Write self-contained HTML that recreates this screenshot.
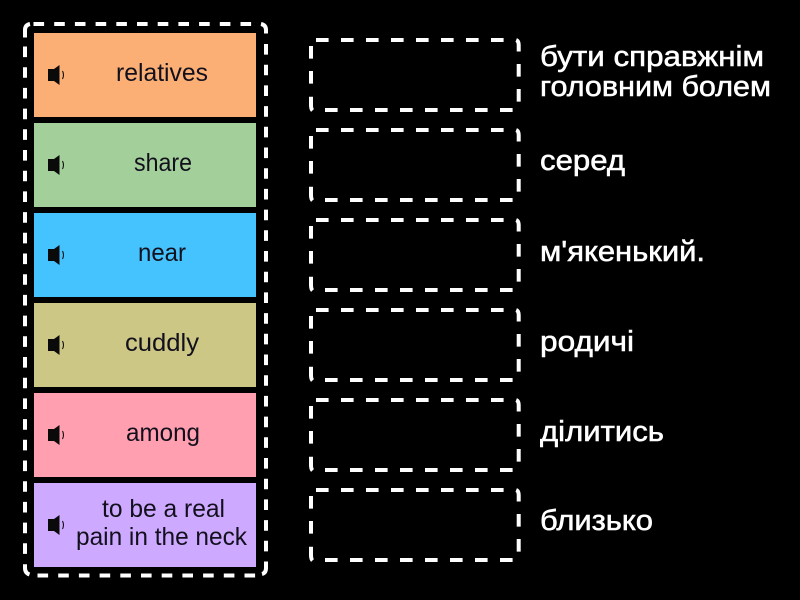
<!DOCTYPE html>
<html><head><meta charset="utf-8"><style>
html,body{margin:0;padding:0;background:#000;width:800px;height:600px;overflow:hidden}
svg{display:block}
.l{font-family:"Liberation Sans","DejaVu Sans",sans-serif;font-size:25px;fill:#12101c;text-anchor:start}
.r{font-family:"Liberation Sans","DejaVu Sans",sans-serif;font-size:29px;fill:#fff;stroke:#fff;stroke-width:.55px}
.d{fill:none;stroke:#fff;stroke-width:4}
</style></head><body>
<svg width="800" height="600" viewBox="0 0 800 600" xmlns="http://www.w3.org/2000/svg">
<defs>
<g id="spk"><path d="M0-6H6L11.5-10V10L6 6H0Z" fill="#0a0a0a"/><path d="M14.5-4 Q16.5 0 14.5 4" fill="none" stroke="#111" stroke-width="1.1"/></g>
<g id="box">
<path class="d" stroke-dasharray="12.6 12.4" d="M316 40H504"/>
<path class="d" stroke-dasharray="12.6 12.4" d="M325 110H513"/>
<path class="d" stroke-dasharray="12.6 12.4" d="M311 46V85"/>
<path class="d" stroke-dasharray="12.6 12.4" d="M518.7 64V103"/>
<path class="d" d="M516.2 40Q518.7 41 518.7 45V51.5"/>
<path class="d" d="M311 96.8V105Q311 109 312.5 110.5"/>
</g>
</defs>
<path class="d" stroke-dasharray="10.6 10.1" d="M33.5 24H252"/>
<path class="d" stroke-dasharray="10.6 10.1" d="M37.5 575.5H256"/>
<path class="d" stroke-dasharray="10.6 10.1" d="M25 46.5V555"/>
<path class="d" stroke-dasharray="10.6 10.1" d="M266 44V552.5"/>
<path class="d" d="M30 24Q25 25 25 30V37.5"/>
<path class="d" d="M261 24Q266 25 266 30V33.5"/>
<path class="d" d="M25 564.3V568Q25 573 29.5 574.5"/>
<path class="d" d="M266 561.5V568Q266 573 262 574"/>
<rect x="34" y="33" width="222" height="84" fill="#FCAF74"/>
<rect x="34" y="123" width="222" height="84" fill="#A3CF9A"/>
<rect x="34" y="213" width="222" height="84" fill="#45C3FF"/>
<rect x="34" y="303" width="222" height="84" fill="#CCC784"/>
<rect x="34" y="393" width="222" height="84" fill="#FF9FAF"/>
<rect x="34" y="483" width="222" height="84" fill="#CDA9FF"/>
<use href="#spk" x="48" y="75"/><use href="#spk" x="48" y="165"/><use href="#spk" x="48" y="255"/><use href="#spk" x="48" y="345"/><use href="#spk" x="48" y="435"/><use href="#spk" x="48" y="525"/>
<text class="l" x="116" y="81" textLength="92" lengthAdjust="spacingAndGlyphs">relatives</text>
<text class="l" x="134" y="171" textLength="58" lengthAdjust="spacingAndGlyphs">share</text>
<text class="l" x="138" y="261" textLength="48" lengthAdjust="spacingAndGlyphs">near</text>
<text class="l" x="125" y="351" textLength="74" lengthAdjust="spacingAndGlyphs">cuddly</text>
<text class="l" x="126" y="441" textLength="74" lengthAdjust="spacingAndGlyphs">among</text>
<text class="l" x="102" y="517" textLength="123" lengthAdjust="spacingAndGlyphs">to be a real</text>
<text class="l" x="76" y="545" textLength="171" lengthAdjust="spacingAndGlyphs">pain in the neck</text>
<use href="#box" y="0"/><use href="#box" y="90"/><use href="#box" y="180"/><use href="#box" y="270"/><use href="#box" y="360"/><use href="#box" y="450"/>
<text class="r" x="540" y="66" textLength="224" lengthAdjust="spacingAndGlyphs">бути справжнім</text>
<text class="r" x="540" y="96" textLength="231" lengthAdjust="spacingAndGlyphs">головним болем</text>
<text class="r" x="540" y="170" textLength="85" lengthAdjust="spacingAndGlyphs">серед</text>
<text class="r" x="540" y="261" textLength="165" lengthAdjust="spacingAndGlyphs">м'якенький.</text>
<text class="r" x="540" y="351" textLength="94" lengthAdjust="spacingAndGlyphs">родичі</text>
<text class="r" x="540" y="441" textLength="124" lengthAdjust="spacingAndGlyphs">ділитись</text>
<text class="r" x="540" y="530" textLength="113" lengthAdjust="spacingAndGlyphs">близько</text>
</svg>
</body></html>
